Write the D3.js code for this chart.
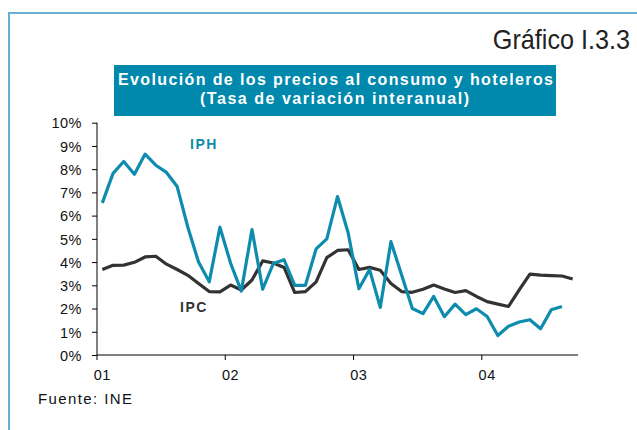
<!DOCTYPE html>
<html>
<head>
<meta charset="utf-8">
<script src="https://cdn.jsdelivr.net/npm/d3@7"></script>
<style>
    body { margin: 0; background: #fff; }
    text { font-family: "Liberation Sans", Arial, sans-serif; }
</style>
</head>
<body>
<div id="chart"></div>
<script>
// year labels on the x axis (one per January)
var years = ["01", "02", "03", "04"];

// monthly year-on-year rates, Jan 2001 .. Sep 2004 (in %)
var ipc = [3.68, 3.86, 3.87, 3.99, 4.22, 4.25, 3.91, 3.68, 3.43, 3.08, 2.73, 2.72,
           3.01, 2.80, 3.23, 4.05, 3.96, 3.77, 2.69, 2.73, 3.15, 4.19, 4.50, 4.53,
           3.68, 3.77, 3.65, 3.08, 2.73, 2.70, 2.83, 3.01, 2.84, 2.69, 2.77, 2.52,
           2.30, 2.19, 2.09, 2.80, 3.48, 3.44, 3.42, 3.40, 3.27];
var iph = [6.55, 7.82, 8.33, 7.78, 8.65, 8.17, 7.86, 7.25, 5.50, 4.00, 3.15, 5.50,
           3.95, 2.75, 5.40, 2.83, 3.94, 4.10, 3.00, 3.00, 4.57, 5.00, 6.82, 5.25,
           2.85, 3.68, 2.05, 4.88, 3.44, 2.00, 1.78, 2.52, 1.65, 2.19, 1.74, 1.99,
           1.66, 0.84, 1.24, 1.42, 1.52, 1.13, 1.95, 2.09];

var yTicks = [0, 1, 2, 3, 4, 5, 6, 7, 8, 9, 10];

var width = 637, height = 430;
var months = d3.range(ipc.length);   // category index for each month

var svg = d3.select("#chart").append("svg")
    .attr("width", width)
    .attr("height", height);

// frame (only top and left edges show in the picture)
svg.append("path")
    .attr("d", "M9," + height + "V13H" + width)
    .attr("fill", "none")
    .attr("stroke", "#6aaed2")
    .attr("stroke-width", 2);

// narrow-looking chart number, squeezed horizontally
svg.append("text")
    .attr("transform", "translate(630,49) scale(0.9,1)")
    .attr("text-anchor", "end")
    .style("font-size", "28px")
    .attr("fill", "#222")
    .text("Gráfico I.3.3");

// title box
svg.append("rect")
    .attr("x", 114)
    .attr("y", 65)
    .attr("width", 442)
    .attr("height", 51)
    .attr("fill", "#0088ad");

svg.append("text")
    .attr("x", 335.5)
    .attr("y", 85)
    .attr("text-anchor", "middle")
    .attr("textLength", 435)
    .attr("lengthAdjust", "spacing")
    .style("font-size", "16px")
    .style("font-weight", "bold")
    .attr("fill", "#fff")
    .text("Evolución de los precios al consumo y hoteleros");

svg.append("text")
    .attr("x", 334.5)
    .attr("y", 104)
    .attr("text-anchor", "middle")
    .attr("textLength", 269)
    .attr("lengthAdjust", "spacing")
    .style("font-size", "16px")
    .style("font-weight", "bold")
    .attr("fill", "#fff")
    .text("(Tasa de variación interanual)");

var xScale = d3.scaleBand()
    .domain(months)
    .range([97, 578]);

var yScale = d3.scaleLinear()
    .domain([0, 10])
    .range([355, 122.7]);

var half = xScale.bandwidth() / 2;

// y axis
var yAxis = d3.axisLeft(yScale)
    .tickValues(yTicks)
    .tickSize(5)
    .tickFormat(function (d) { return d + "%"; });

var yg = svg.append("g")
    .attr("transform", "translate(97,0)")
    .call(yAxis);
yg.select(".domain").attr("d", "M0," + yScale(10) + "V" + yScale(0)).attr("stroke", "#000");
yg.selectAll(".tick line").attr("stroke", "#000");
yg.selectAll(".tick text")
    .attr("x", -15)
    .attr("dy", "0.36em")
    .attr("fill", "#111")
    .style("font-size", "14.5px")
    .style("letter-spacing", "0.5px")
    .style("font-family", "'Liberation Sans', Arial, sans-serif");

// x axis: ticks on year boundaries, labels centred on January
var yearStart = years.map(function (y, i) { return i * 12; });
var xAxis = d3.axisBottom(xScale)
    .tickValues(yearStart)
    .tickSize(5)
    .tickFormat(function (d, i) { return years[i]; });

var xg = svg.append("g")
    .attr("transform", "translate(0,355)")
    .call(xAxis);
xg.select(".domain").attr("d", "M97,0H578").attr("stroke", "#000");
xg.selectAll(".tick line").attr("x1", -half).attr("x2", -half).attr("stroke", "#000");
xg.selectAll(".tick text")
    .attr("y", 15)
    .attr("dy", "0.71em")
    .attr("fill", "#111")
    .style("font-size", "14.5px")
    .style("letter-spacing", "0.6px")
    .style("font-family", "'Liberation Sans', Arial, sans-serif");

var line = d3.line()
    .x(function (d, i) { return xScale(i) + half; })
    .y(function (d) { return yScale(d); });

svg.append("path")
    .datum(ipc)
    .attr("d", line)
    .attr("fill", "none")
    .attr("stroke", "#333")
    .attr("stroke-width", 3.2)
    .attr("stroke-linejoin", "round");

svg.append("path")
    .datum(iph)
    .attr("d", line)
    .attr("fill", "none")
    .attr("stroke", "#0e8cad")
    .attr("stroke-width", 3.2)
    .attr("stroke-linejoin", "round");

// series labels
svg.append("text")
    .attr("x", 190)
    .attr("y", 149)
    .style("font-size", "14px")
    .style("font-weight", "bold")
    .style("letter-spacing", "1.5px")
    .attr("fill", "#0e8cad")
    .text("IPH");

svg.append("text")
    .attr("x", 180)
    .attr("y", 312)
    .style("font-size", "14px")
    .style("font-weight", "bold")
    .style("letter-spacing", "1.5px")
    .attr("fill", "#333")
    .text("IPC");

svg.append("text")
    .attr("x", 38)
    .attr("y", 404)
    .style("font-size", "15px")
    .style("letter-spacing", "1.4px")
    .attr("fill", "#111")
    .text("Fuente: INE");
</script>
</body>
</html>
